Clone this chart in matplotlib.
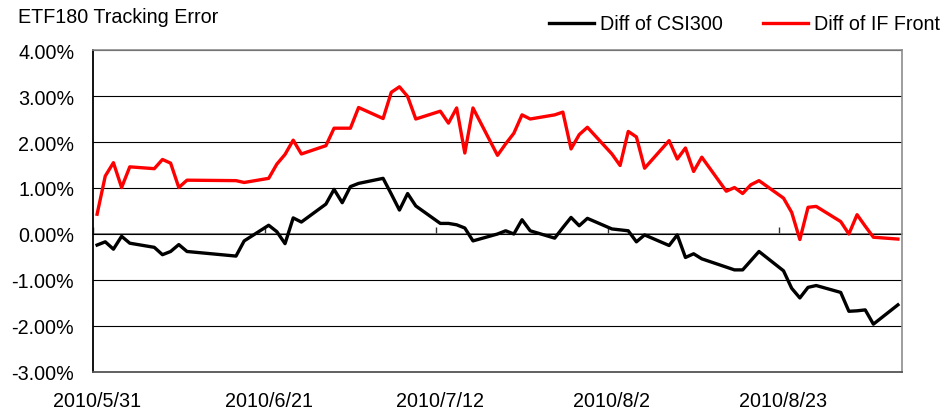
import numpy as np
import pandas as pd
import matplotlib
matplotlib.use('Agg')
import matplotlib.pyplot as plt
import matplotlib.dates as mdates

plt.rcParams['font.family'] = ['Liberation Sans', 'DejaVu Sans']

#Dias de negociacion (sin el festivo del Barco del Dragon):
trade_days = [
    '2010-05-31', '2010-06-01', '2010-06-02', '2010-06-03', '2010-06-04',
    '2010-06-07', '2010-06-08', '2010-06-09', '2010-06-10', '2010-06-11',
    '2010-06-17', '2010-06-18',
    '2010-06-21', '2010-06-22', '2010-06-23', '2010-06-24', '2010-06-25',
    '2010-06-28', '2010-06-29', '2010-06-30', '2010-07-01', '2010-07-02',
    '2010-07-05', '2010-07-06', '2010-07-07', '2010-07-08', '2010-07-09',
    '2010-07-12', '2010-07-13', '2010-07-14', '2010-07-15', '2010-07-16',
    '2010-07-19', '2010-07-20', '2010-07-21', '2010-07-22', '2010-07-23',
    '2010-07-26', '2010-07-27', '2010-07-28', '2010-07-29', '2010-07-30',
    '2010-08-02', '2010-08-03', '2010-08-04', '2010-08-05', '2010-08-06',
    '2010-08-09', '2010-08-10', '2010-08-11', '2010-08-12', '2010-08-13',
    '2010-08-16', '2010-08-17', '2010-08-18', '2010-08-19', '2010-08-20',
    '2010-08-23', '2010-08-24', '2010-08-25', '2010-08-26', '2010-08-27',
    '2010-08-30', '2010-08-31', '2010-09-01', '2010-09-02', '2010-09-03',
    '2010-09-06',
]

#Diferencias en %:
diff_csi300 = [
    -0.24, -0.17, -0.33, -0.05, -0.20,
    -0.29, -0.45, -0.38, -0.23, -0.38,
    -0.48, -0.15,
    0.19, 0.05, -0.21, 0.35, 0.26,
    0.65, 0.97, 0.68, 1.03, 1.10,
    1.21, 0.87, 0.52, 0.88, 0.61,
    0.23, 0.23, 0.20, 0.13, -0.15,
    0.00, 0.07, 0.00, 0.31, 0.07,
    -0.09, 0.14, 0.36, 0.18, 0.34,
    0.11, 0.09, 0.07, -0.17, -0.02,
    -0.25, -0.02, -0.51, -0.43, -0.54,
    -0.72, -0.78, -0.78, -0.58, -0.38,
    -0.80, -1.18, -1.39, -1.16, -1.12,
    -1.27, -1.68, -1.67, -1.65, -1.96,
    -1.54,
]

diff_if_front = [
    0.43, 1.26, 1.55, 1.01, 1.46,
    1.42, 1.62, 1.54, 1.01, 1.17,
    1.16, 1.12,
    1.21, 1.52, 1.73, 2.04, 1.74,
    1.92, 2.30, 2.30, 2.30, 2.75,
    2.51, 3.08, 3.20, 2.99, 2.50,
    2.67, 2.41, 2.74, 1.76, 2.74,
    1.71, 1.96, 2.19, 2.59, 2.50,
    2.59, 2.65, 1.85, 2.16, 2.32,
    1.74, 1.49, 2.23, 2.11, 1.43,
    2.03, 1.63, 1.87, 1.36, 1.67,
    0.93, 1.01, 0.88, 1.07, 1.16,
    0.78, 0.47, -0.12, 0.58, 0.60,
    0.27, 0.00, 0.42, 0.17, -0.07,
    -0.11,
]

tick_dates = ['2010-05-31', '2010-06-21', '2010-07-12', '2010-08-02', '2010-08-23']
tick_labels = ['2010/5/31', '2010/6/21', '2010/7/12', '2010/8/2', '2010/8/23']
y_ticks = [-3, -2, -1, 0, 1, 2, 3, 4]

#Cada dia ocupa una casilla; el punto va en el centro de la casilla:
x = mdates.date2num(pd.to_datetime(trade_days)) + 0.5
x_ticks = mdates.date2num(pd.to_datetime(tick_dates))
x_min = mdates.date2num(pd.Timestamp('2010-05-31'))
x_max = mdates.date2num(pd.Timestamp('2010-09-07'))

fs = 14.2
fig = plt.figure(figsize=(9.51, 4.10), dpi=100)
ax = fig.add_axes([93/951, 1-373/410, (902-93)/951, (373-51)/410])

ax.plot(x, diff_csi300, color='black', linewidth=2.4, label='Diff of CSI300', zorder=3)
ax.plot(x, diff_if_front, color='#ff0000', linewidth=2.4, label='Diff of IF Front', zorder=3)

ax.set_xlim(x_min, x_max)
ax.set_ylim(-3, 4)
ax.set_yticks(y_ticks)
ax.set_yticklabels(['{:.2f}%'.format(v) for v in y_ticks], fontsize=fs)
ax.tick_params(axis='y', length=0, pad=13.5)
ax.set_xticks(x_ticks + 0.5)
ax.set_xticklabels(tick_labels, fontsize=fs)
ax.tick_params(axis='x', length=0, pad=14)

ax.grid(True, axis='y', color='black', linewidth=0.8)
ax.set_axisbelow(True)
ax.spines['left'].set_color('black')
ax.spines['left'].set_linewidth(1.3)
ax.spines['bottom'].set_color('#555555')
ax.spines['bottom'].set_linewidth(1.3)
ax.spines['top'].set_color('#8c8c8c')
ax.spines['right'].set_color('#8c8c8c')
ax.spines['top'].set_linewidth(1.2)
ax.spines['right'].set_linewidth(1.2)

#Eje horizontal en el cero con sus marcas:
sec = ax.secondary_xaxis(3/7)
sec.set_xticks(x_ticks)
sec.tick_params(axis='x', direction='in', length=5, width=1, color='#333333', labelbottom=False)
sec.spines['bottom'].set_color('#6e6e6e')
sec.spines['bottom'].set_linewidth(1.2)

fig.text(18/951, 1-17.5/410, 'ETF180 Tracking Error', fontsize=fs, va='center', ha='left')

fig.legend(loc='center right', bbox_to_anchor=(940/951, 1-25/410), ncol=2, frameon=False,
           fontsize=fs, handlelength=2.3, handletextpad=0.3, columnspacing=2.0,
           borderpad=0, borderaxespad=0)

fig.savefig('out.png', dpi=100)
